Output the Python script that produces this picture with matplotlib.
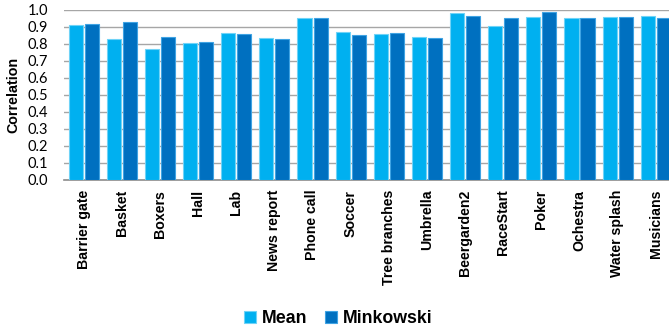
import numpy as np
import matplotlib.pyplot as plt

# correlation per sequence
scenes = ["Barrier gate", "Basket", "Boxers", "Hall", "Lab", "News report",
          "Phone call", "Soccer", "Tree branches", "Umbrella", "Beergarden2",
          "RaceStart", "Poker", "Ochestra", "Water splash", "Musicians"]
mean_corr = [0.910, 0.831, 0.773, 0.806, 0.863, 0.833, 0.955, 0.869,
             0.861, 0.841, 0.982, 0.904, 0.959, 0.953, 0.959, 0.963]
minkowski_corr = [0.916, 0.927, 0.839, 0.812, 0.859, 0.831, 0.951, 0.855,
                  0.865, 0.833, 0.967, 0.951, 0.986, 0.953, 0.959, 0.953]
yticks = np.arange(0, 1.01, 0.1)

plt.rcParams['font.family'] = ['Lato', 'DejaVu Sans']
bold_font = ['Liberation Sans', 'DejaVu Sans']

fig = plt.figure(figsize=(6.69, 3.32), dpi=100)
ax = fig.add_axes([0.0964, 0.458, 0.912, 0.512])

x = np.arange(len(scenes))
w = 0.37
ax.bar(x - 0.205, mean_corr, w, color='#00B0F0', edgecolor='#6FD3F7',
       linewidth=0.8, label='Mean', zorder=3)
ax.bar(x + 0.215, minkowski_corr, w, color='#0070C0', edgecolor='#3FA3E3',
       linewidth=0.8, label='Minkowski', zorder=3)

ax.set_xlim(-0.5, len(scenes) - 0.5)
ax.set_ylim(0, 1.0)
ax.set_yticks(yticks)
ax.set_yticklabels(["%.1f" % v for v in yticks], fontsize=10.5)
ax.set_xticks(x)
ax.set_xticklabels(scenes, rotation=90, fontsize=10.2, fontweight='bold',
                   family=bold_font)
ax.tick_params(axis='y', length=0, pad=12)
ax.tick_params(axis='x', length=0, pad=7)
ax.yaxis.grid(True, color='#A6A6A6', linewidth=1.0, zorder=0)
for s in ['top', 'right', 'left']:
    ax.spines[s].set_visible(False)
ax.spines['bottom'].set_color('#8C8C8C')
ax.spines['bottom'].set_linewidth(1.2)
ax.set_ylabel('Correlation', fontsize=10.3, fontweight='bold',
              family=bold_font, labelpad=5)

fig.legend(loc='center', bbox_to_anchor=(0.505, 0.04), ncol=2, frameon=False,
           prop={'size': 12.8, 'weight': 'bold', 'family': bold_font},
           handlelength=0.7, handleheight=0.7, handletextpad=0.3,
           columnspacing=1.0)

fig.savefig('out.png', dpi=100)
